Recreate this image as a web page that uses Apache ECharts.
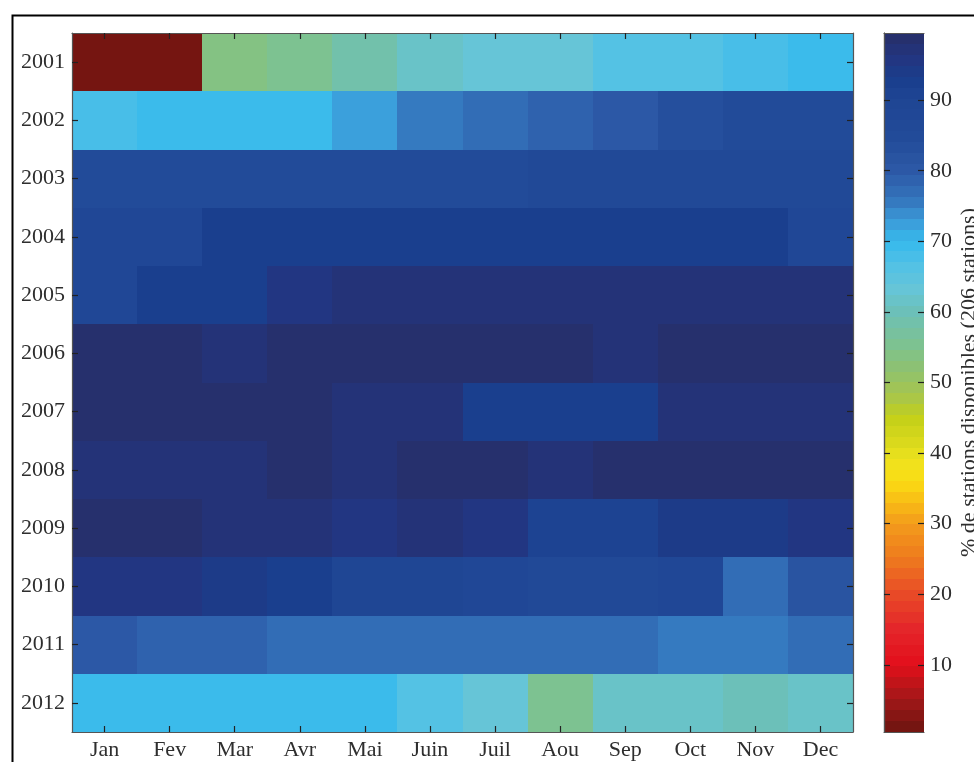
<!DOCTYPE html>
<html>
<head>
<meta charset="utf-8">
<title>Disponibilité des stations 2001-2012</title>
<script src="https://cdn.jsdelivr.net/npm/echarts@6/dist/echarts.min.js"></script>
<style>
  html, body { margin: 0; padding: 0; background: #fff; }
  #chart { width: 974px; height: 762px; }
</style>
</head>
<body>
<div id="chart"></div>
<script>
// Months and years of the grid
const months = ['Jan', 'Fev', 'Mar', 'Avr', 'Mai', 'Juin', 'Juil', 'Aou', 'Sep', 'Oct', 'Nov', 'Dec'];
const years = ['2001', '2002', '2003', '2004', '2005', '2006', '2007', '2008', '2009', '2010', '2011', '2012'];

// % of available stations, one array per year (Jan..Dec)
const y2001 = [1.0, 1.0, 54.0, 56.0, 58.0, 61.0, 63.0, 63.0, 66.0, 66.0, 68.5, 70.0];
const y2002 = [68.0, 70.0, 70.0, 70.0, 72.5, 75.0, 76.5, 78.5, 80.5, 84.0, 85.0, 85.0];
const y2003 = [85.0, 85.0, 85.0, 85.0, 85.0, 85.0, 85.0, 86.0, 86.0, 86.0, 86.5, 86.5];
const y2004 = [87.5, 87.5, 92.0, 92.0, 92.0, 92.0, 92.0, 92.0, 92.0, 92.0, 92.0, 88.0];
const y2005 = [88.0, 93.0, 93.0, 95.0, 96.5, 96.5, 96.5, 96.5, 96.5, 96.5, 96.5, 96.5];
const y2006 = [98.5, 98.5, 96.5, 98.0, 98.0, 98.0, 98.0, 98.0, 97.0, 98.0, 98.0, 98.0];
const y2007 = [98.0, 98.0, 98.0, 98.0, 97.0, 97.0, 93.0, 93.0, 93.0, 97.0, 97.0, 97.0];
const y2008 = [97.0, 97.0, 97.0, 98.0, 97.0, 98.5, 98.5, 97.0, 99.0, 99.0, 99.0, 99.0];
const y2009 = [99.0, 99.0, 97.5, 97.5, 95.5, 97.5, 96.0, 91.0, 91.0, 94.0, 94.0, 95.5];
const y2010 = [95.5, 95.5, 93.5, 92.0, 90.0, 90.0, 88.0, 87.0, 87.0, 88.5, 76.5, 81.0];
const y2011 = [79.5, 78.0, 78.0, 76.5, 76.5, 76.5, 76.5, 76.5, 76.5, 75.0, 75.0, 76.5];
const y2012 = [70.0, 70.0, 70.0, 70.0, 70.0, 66.0, 63.5, 55.5, 61.0, 62.0, 60.5, 62.0];
const yearRows = [y2001, y2002, y2003, y2004, y2005, y2006, y2007, y2008, y2009, y2010, y2011, y2012];

// Colour scale limits (1/206 .. 205/206 stations) and colorbar tick labels
const scaleMin = 100 / 206;
const scaleMax = 100 * 205 / 206;
const barTicks = [10, 20, 30, 40, 50, 60, 70, 80, 90];

// Colormap anchors [value, colour]; sampled into 64 flat bands
const cmapAnchors = [
  [0.5, '#6c1410'], [5, '#a11818'], [10, '#e30f1b'], [15, '#e4252a'],
  [20, '#e84a27'], [25, '#ee7a1e'], [30, '#f39c1b'], [33, '#f8bb16'],
  [36, '#fbdc14'], [39, '#eee21e'], [42, '#d6d71c'], [45, '#c4d018'],
  [48, '#a8c64c'], [52, '#8dc171'], [55, '#7fc28e'], [60, '#6cc0b8'],
  [63, '#67c5d6'], [66, '#56c2e4'], [70, '#36baec'], [73, '#3c9ad8'],
  [76, '#3474bc'], [80, '#2c59a6'], [85, '#224a98'], [90, '#1f4594'],
  [93, '#193e8d'], [96, '#233580'], [99.5, '#272f68']
];
const nBands = 64;

function hexToRgb(h) {
  return [parseInt(h.slice(1, 3), 16), parseInt(h.slice(3, 5), 16), parseInt(h.slice(5, 7), 16)];
}
function cmapAt(v) {
  if (v <= cmapAnchors[0][0]) return cmapAnchors[0][1];
  for (let i = 1; i < cmapAnchors.length; i++) {
    const [v1, c1] = cmapAnchors[i];
    const [v0, c0] = cmapAnchors[i - 1];
    if (v <= v1) {
      const t = (v - v0) / (v1 - v0);
      const a = hexToRgb(c0), b = hexToRgb(c1);
      const m = a.map((x, k) => Math.round(x + (b[k] - x) * t));
      return 'rgb(' + m.join(',') + ')';
    }
  }
  return cmapAnchors[cmapAnchors.length - 1][1];
}

const step = (scaleMax - scaleMin) / nBands;
const bandColors = [];
const pieces = [];
for (let i = 0; i < nBands; i++) {
  const lo = scaleMin + i * step;
  const c = cmapAt(lo + step / 2);
  bandColors.push(c);
  pieces.push({ gte: i === 0 ? -1 : lo, lt: i === nBands - 1 ? 101 : lo + step, color: c });
}

const heatData = [];
yearRows.forEach((row, yi) => row.forEach((v, mi) => heatData.push([mi, yi, v])));
const bandData = bandColors.map((c, i) => [i]);

const FONT = 'Liberation Serif';
const TXT = '#2e2e2e';
const LINE = '#555';
const TICK = '#222';

function catAxis(gridIndex, data, pos, withLabels, extra) {
  return Object.assign({
    gridIndex: gridIndex, type: 'category', data: data, position: pos, zlevel: 1,
    axisLine: { lineStyle: { color: LINE, width: 1.2 } },
    axisTick: { show: true, inside: true, alignWithLabel: true, length: 6, lineStyle: { color: TICK, width: 1.2 } },
    axisLabel: withLabels ? { color: TXT, fontFamily: FONT, fontSize: 22, margin: 7 } : { show: false },
    splitLine: { show: false }
  }, extra || {});
}

// colorbar axes: all anchored on the left edge, the last one shifted to the right edge
function barAxis(extra) {
  return Object.assign({
    gridIndex: 1, type: 'value', min: scaleMin, max: scaleMax, position: 'left', zlevel: 1,
    axisLine: { lineStyle: { color: LINE, width: 1.2 } },
    axisTick: { show: false },
    axisLabel: { show: false },
    splitLine: { show: false }
  }, extra);
}

// pixel-snapped rectangle between two corner points
function snapRect(p, q, fill) {
  const x0 = Math.round(Math.min(p[0], q[0])), x1 = Math.round(Math.max(p[0], q[0]));
  const y0 = Math.round(Math.min(p[1], q[1])), y1 = Math.round(Math.max(p[1], q[1]));
  return { type: 'rect', shape: { x: x0, y: y0, width: x1 - x0, height: y1 - y0 }, style: { fill: fill } };
}

const chart = echarts.init(document.getElementById('chart'));
chart.setOption({
  backgroundColor: '#fff',
  animation: false,
  textStyle: { fontFamily: FONT },
  graphic: [{
    type: 'rect', left: 10, top: 13, z: 100, silent: true,
    shape: { width: 1000, height: 800 },
    style: { fill: 'none', stroke: '#000', lineWidth: 2 }
  }],
  grid: [
    { left: 72, top: 33, width: 781, height: 699, outerBoundsMode: 'none' },
    { left: 884, top: 33, width: 40, height: 699, outerBoundsMode: 'none' }
  ],
  xAxis: [
    catAxis(0, months, 'bottom', true),
    catAxis(0, months, 'top', false),
    { gridIndex: 1, type: 'value', min: 0, max: 1, position: 'bottom', zlevel: 1,
      axisLine: { lineStyle: { color: LINE, width: 1.2 } },
      axisTick: { show: false }, axisLabel: { show: false }, splitLine: { show: false } },
    { gridIndex: 1, type: 'value', min: 0, max: 1, position: 'top', zlevel: 1,
      axisLine: { lineStyle: { color: LINE, width: 1.2 } },
      axisTick: { show: false }, axisLabel: { show: false }, splitLine: { show: false } }
  ],
  yAxis: [
    catAxis(0, years, 'left', true, { inverse: true }),
    catAxis(0, years, 'right', false, { inverse: true }),
    // labels and title on the right edge
    barAxis({
      position: 'right',
      name: '% de stations disponibles (206 stations)',
      nameLocation: 'middle', nameRotate: 90, nameGap: 34,
      nameTextStyle: { color: TXT, fontFamily: FONT, fontSize: 22 },
      axisLabel: { color: TXT, fontFamily: FONT, fontSize: 22, margin: 6, customValues: barTicks }
    }),
    // ticks pointing inward from the left edge
    barAxis({
      axisTick: { show: true, inside: true, length: 6, customValues: barTicks, lineStyle: { color: TICK, width: 1.2 } }
    }),
    // ticks pointing inward from the right edge
    barAxis({
      offset: -40,
      axisLine: { show: false },
      axisTick: { show: true, inside: false, length: 6, customValues: barTicks, lineStyle: { color: TICK, width: 1.2 } }
    })
  ],
  visualMap: { type: 'piecewise', show: false, seriesIndex: 0, dimension: 2, pieces: pieces },
  series: [
    {
      // one rectangle per month/year cell
      type: 'custom', xAxisIndex: 0, yAxisIndex: 0, data: heatData, silent: true,
      encode: { x: 0, y: 1 },
      renderItem: function (params, api) {
        const c = api.coord([api.value(0), api.value(1)]);
        const s = api.size([1, 1]);
        return snapRect([c[0] - s[0] / 2, c[1] - s[1] / 2], [c[0] + s[0] / 2, c[1] + s[1] / 2], api.visual('color'));
      }
    },
    {
      // colorbar: 64 flat bands
      type: 'custom', xAxisIndex: 2, yAxisIndex: 2, data: bandData, silent: true,
      renderItem: function (params, api) {
        const i = api.value(0);
        const lo = scaleMin + i * step;
        return snapRect(api.coord([0, lo + step]), api.coord([1, lo]), bandColors[i]);
      }
    }
  ]
});
</script>
</body>
</html>
